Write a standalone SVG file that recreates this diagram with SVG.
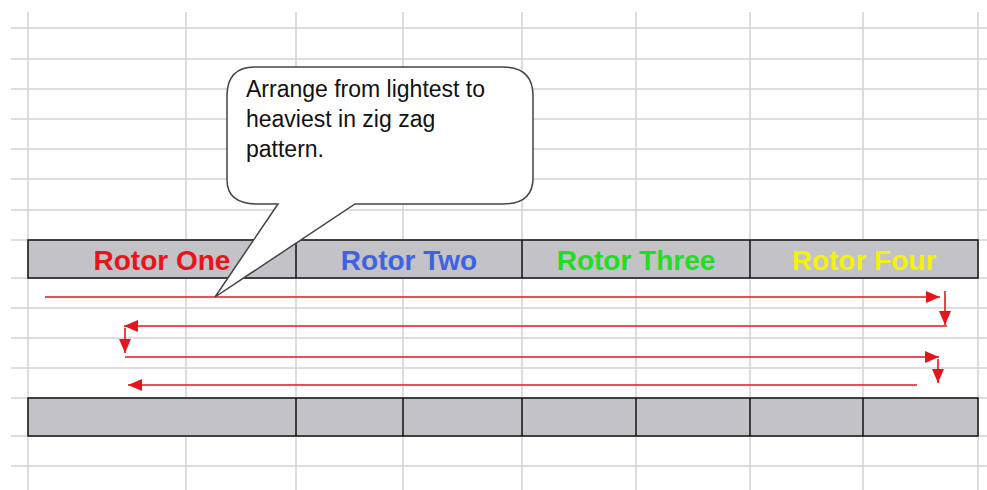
<svg xmlns="http://www.w3.org/2000/svg" width="987" height="490" viewBox="0 0 987 490">
<style>
.grid line{stroke:#d2d2d2;stroke-width:1.5}
.band{fill:#c3c2c6;stroke:#111;stroke-width:1.5}
.div{stroke:#111;stroke-width:1.5}
.lbl{font-family:"Liberation Sans",Arial,sans-serif;font-size:28px;font-weight:bold;text-anchor:middle}
.note{font-family:"Liberation Sans",Arial,sans-serif;font-size:23px;fill:#111}
.arr{stroke:#e8141b;stroke-width:1.6;fill:none}
</style>
<defs>
<marker id="ah" viewBox="0 0 14 12" refX="14" refY="6" markerWidth="14" markerHeight="12" markerUnits="userSpaceOnUse" orient="auto">
<path d="M0,0 L14,6 L0,12 Z" fill="#e8141b"/>
</marker>
</defs>
<rect width="987" height="490" fill="#fff"/>
<g id="grid" class="grid">
<line x1="11" y1="28" x2="987" y2="28"/>
<line x1="11" y1="59" x2="987" y2="59"/>
<line x1="11" y1="89" x2="987" y2="89"/>
<line x1="11" y1="119" x2="987" y2="119"/>
<line x1="11" y1="149" x2="987" y2="149"/>
<line x1="11" y1="179" x2="987" y2="179"/>
<line x1="11" y1="210" x2="987" y2="210"/>
<line x1="11" y1="240" x2="987" y2="240"/>
<line x1="11" y1="278" x2="987" y2="278"/>
<line x1="11" y1="308" x2="987" y2="308"/>
<line x1="11" y1="338" x2="987" y2="338"/>
<line x1="11" y1="368" x2="987" y2="368"/>
<line x1="11" y1="398" x2="987" y2="398"/>
<line x1="11" y1="436" x2="987" y2="436"/>
<line x1="11" y1="466" x2="987" y2="466"/>
<line x1="28" y1="12" x2="28" y2="490"/>
<line x1="186" y1="12" x2="186" y2="490"/>
<line x1="296" y1="12" x2="296" y2="490"/>
<line x1="403" y1="12" x2="403" y2="490"/>
<line x1="522" y1="12" x2="522" y2="490"/>
<line x1="636" y1="12" x2="636" y2="490"/>
<line x1="750" y1="12" x2="750" y2="490"/>
<line x1="863" y1="12" x2="863" y2="490"/>
<line x1="978" y1="12" x2="978" y2="490"/>
</g>
<g id="header">
<rect class="band" x="28" y="240" width="950" height="38"/>
<line class="div" x1="296" y1="240" x2="296" y2="278"/>
<line class="div" x1="522" y1="240" x2="522" y2="278"/>
<line class="div" x1="750" y1="240" x2="750" y2="278"/>
</g>
<g id="rotor-one"><text class="lbl" x="162" y="270" fill="#e8141b">Rotor One</text></g>
<g id="rotor-two"><text class="lbl" x="409" y="270" fill="#3e63e0">Rotor Two</text></g>
<g id="rotor-three"><text class="lbl" x="636" y="270" fill="#22dd22">Rotor Three</text></g>
<g id="rotor-four"><text class="lbl" x="864" y="270" fill="#f2f20c">Rotor Four</text></g>
<g id="bottom-row">
<rect class="band" x="28" y="398" width="950" height="38"/>
<line class="div" x1="296" y1="398" x2="296" y2="436"/>
<line class="div" x1="403" y1="398" x2="403" y2="436"/>
<line class="div" x1="522" y1="398" x2="522" y2="436"/>
<line class="div" x1="636" y1="398" x2="636" y2="436"/>
<line class="div" x1="750" y1="398" x2="750" y2="436"/>
<line class="div" x1="863" y1="398" x2="863" y2="436"/>
</g>
<g id="connectors">
<line class="arr" x1="45" y1="297" x2="940" y2="297" marker-end="url(#ah)"/>
<line class="arr" x1="945" y1="291" x2="945" y2="325" marker-end="url(#ah)"/>
<line class="arr" x1="947" y1="326" x2="124" y2="326" marker-end="url(#ah)"/>
<line class="arr" x1="125" y1="328" x2="125" y2="353" marker-end="url(#ah)"/>
<line class="arr" x1="125" y1="357" x2="939" y2="357" marker-end="url(#ah)"/>
<line class="arr" x1="938" y1="359" x2="938" y2="383" marker-end="url(#ah)"/>
<line class="arr" x1="917" y1="385" x2="128" y2="385" marker-end="url(#ah)"/>
</g>
<g id="callout">
<path d="M255,67 H503 Q533,67 533,96 V178 Q533,204 503,204 H355 L215,297 L278,204 H258 Q227,204 227,180 V96 Q227,67 255,67 Z" fill="#fff" stroke="#444" stroke-width="1.5"/>
<text class="note" x="246" y="97">Arrange from lightest to</text>
<text class="note" x="246" y="127">heaviest in zig zag</text>
<text class="note" x="246" y="157">pattern.</text>
</g>
</svg>
